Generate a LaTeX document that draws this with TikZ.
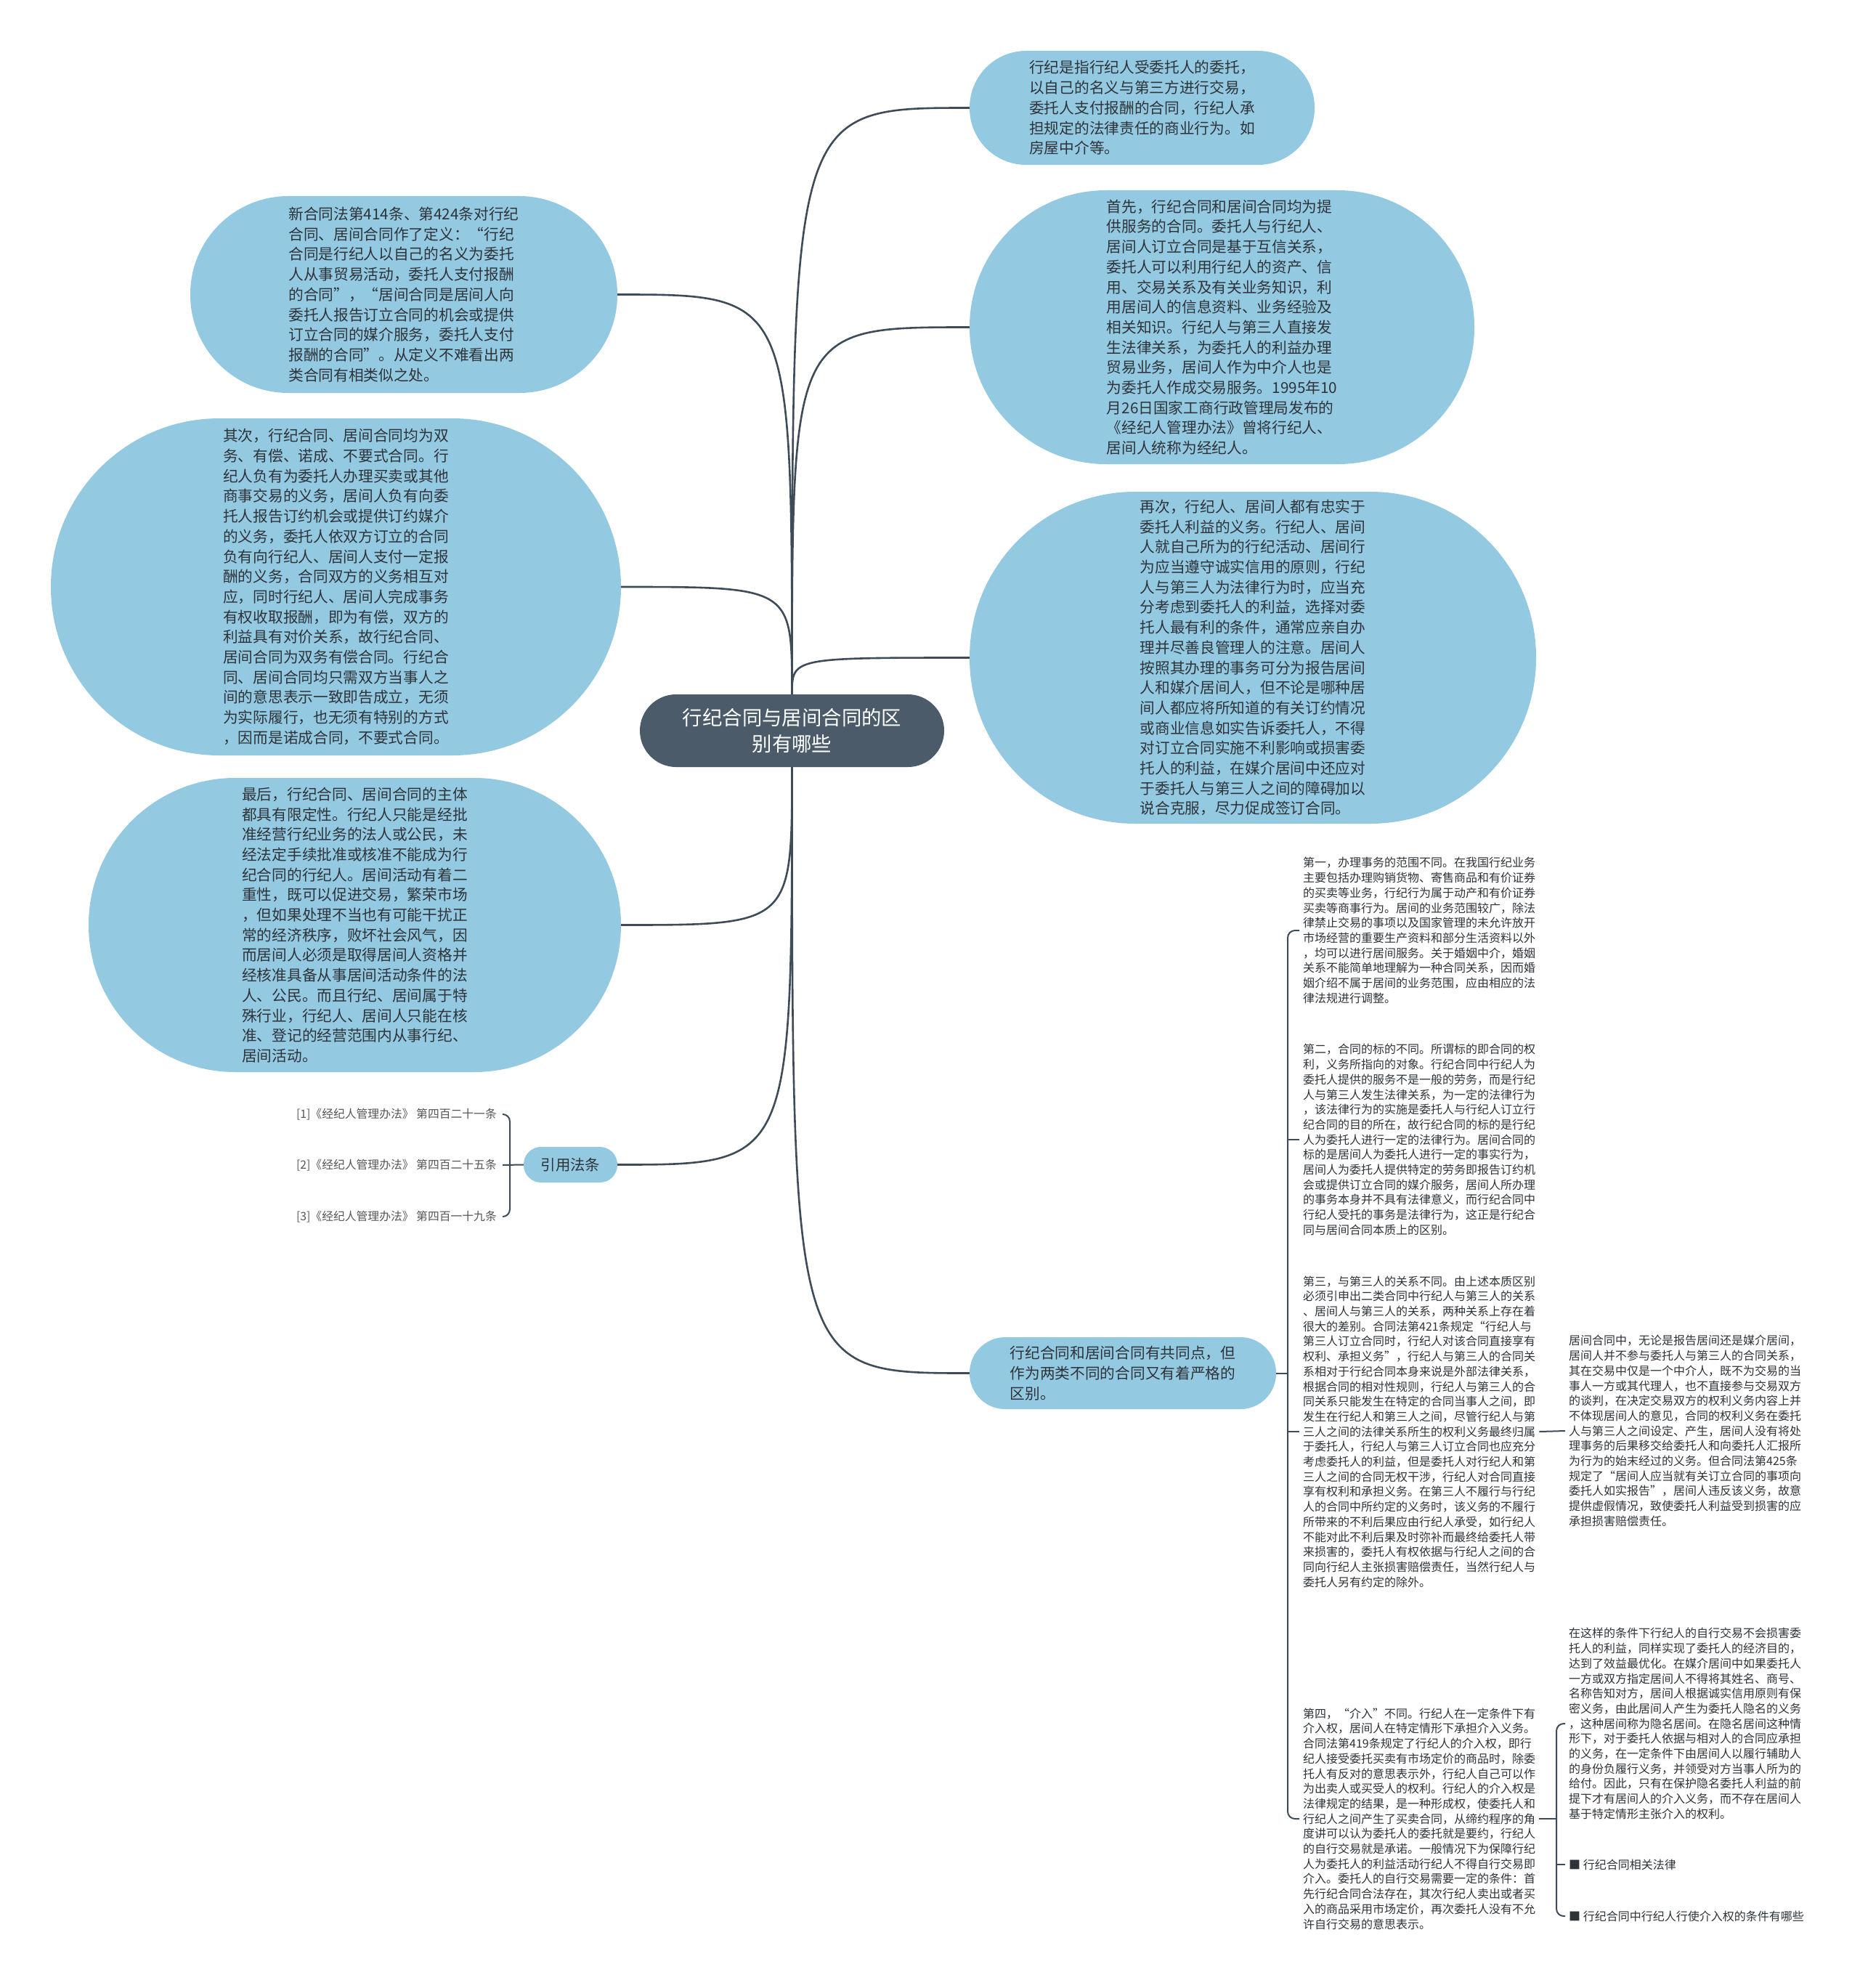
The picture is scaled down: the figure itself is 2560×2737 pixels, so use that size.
\documentclass[tikz,border=0pt]{standalone}
\usepackage{fontspec}
\setmainfont{Noto Sans CJK SC}
\usetikzlibrary{calc}
\definecolor{bub}{HTML}{94C9E2}
\definecolor{hub}{HTML}{4B5B6A}
\definecolor{txt}{HTML}{2E3338}
\definecolor{ln}{HTML}{3E4C59}
\definecolor{cit}{HTML}{555555}
\begin{document}
\begin{tikzpicture}[x=1pt,y=-1pt,
  bubble/.style={fill=bub, text=txt, align=left, inner sep=0pt, font=\fontsize{20.7pt}{27.7pt}\selectfont},
  hubnode/.style={fill=hub, text=white, align=center, inner sep=0pt, font=\fontsize{27.4pt}{36.6pt}\selectfont},
  para/.style={text=txt, align=left, inner xsep=5pt, inner ysep=0pt, font=\fontsize{16pt}{20.7pt}\selectfont},
  citetext/.style={text=cit, anchor=east, inner xsep=8pt, inner ysep=0pt, font=\fontsize{15.8pt}{19pt}\selectfont},
  edge/.style={draw=ln, line width=2.6pt},
  thin edge/.style={draw=ln, line width=2pt}]
\useasboundingbox[fill=white] (0,0) rectangle (2560,2737);

% central node
\node[hubnode, minimum width=419pt, minimum height=100pt, rounded corners=50pt] (hub) at (1090.5,1006) {行纪合同与居间合同的区\\别有哪些};

% right bubbles
\node[bubble, minimum width=475pt, minimum height=157pt, rounded corners=78pt] (r1) at (1572.5,148.5) {行纪是指行纪人受委托人的委托，\\以自己的名义与第三方进行交易，\\委托人支付报酬的合同，行纪人承\\担规定的法律责任的商业行为。如\\房屋中介等。};

\node[bubble, minimum width=695pt, minimum height=377pt, rounded corners=188pt] (r2) at (1682.5,450.5) {首先，行纪合同和居间合同均为提\\供服务的合同。委托人与行纪人、\\居间人订立合同是基于互信关系，\\委托人可以利用行纪人的资产、信\\用、交易关系及有关业务知识，利\\用居间人的信息资料、业务经验及\\相关知识。行纪人与第三人直接发\\生法律关系，为委托人的利益办理\\贸易业务，居间人作为中介人也是\\为委托人作成交易服务。1995年10\\月26日国家工商行政管理局发布的\\《经纪人管理办法》曾将行纪人、\\居间人统称为经纪人。};

\node[bubble, minimum width=780pt, minimum height=457pt, rounded corners=228pt] (r3) at (1725,905.5) {再次，行纪人、居间人都有忠实于\\委托人利益的义务。行纪人、居间\\人就自己所为的行纪活动、居间行\\为应当遵守诚实信用的原则，行纪\\人与第三人为法律行为时，应当充\\分考虑到委托人的利益，选择对委\\托人最有利的条件，通常应亲自办\\理并尽善良管理人的注意。居间人\\按照其办理的事务可分为报告居间\\人和媒介居间人，但不论是哪种居\\间人都应将所知道的有关订约情况\\或商业信息如实告诉委托人，不得\\对订立合同实施不利影响或损害委\\托人的利益，在媒介居间中还应对\\于委托人与第三人之间的障碍加以\\说合克服，尽力促成签订合同。};

\node[bubble, minimum width=422pt, minimum height=99pt, rounded corners=49pt] (r4) at (1546,1890.5) {行纪合同和居间合同有共同点，但\\作为两类不同的合同又有着严格的\\区别。};

% left bubbles
\node[bubble, minimum width=588pt, minimum height=271pt, rounded corners=135pt] (l1) at (556,405.5) {新合同法第414条、第424条对行纪\\合同、居间合同作了定义：“行纪\\合同是行纪人以自己的名义为委托\\人从事贸易活动，委托人支付报酬\\的合同”，“居间合同是居间人向\\委托人报告订立合同的机会或提供\\订立合同的媒介服务，委托人支付\\报酬的合同”。从定义不难看出两\\类合同有相类似之处。};

\node[bubble, minimum width=785pt, minimum height=464pt, rounded corners=232pt] (l2) at (462.5,808) {其次，行纪合同、居间合同均为双\\务、有偿、诺成、不要式合同。行\\纪人负有为委托人办理买卖或其他\\商事交易的义务，居间人负有向委\\托人报告订约机会或提供订约媒介\\的义务，委托人依双方订立的合同\\负有向行纪人、居间人支付一定报\\酬的义务，合同双方的义务相互对\\应，同时行纪人、居间人完成事务\\有权收取报酬，即为有偿，双方的\\利益具有对价关系，故行纪合同、\\居间合同为双务有偿合同。行纪合\\同、居间合同均只需双方当事人之\\间的意思表示一致即告成立，无须\\为实际履行，也无须有特别的方式\\，因而是诺成合同，不要式合同。};

\node[bubble, minimum width=733pt, minimum height=405pt, rounded corners=202pt] (l3) at (488.5,1273.5) {最后，行纪合同、居间合同的主体\\都具有限定性。行纪人只能是经批\\准经营行纪业务的法人或公民，未\\经法定手续批准或核准不能成为行\\纪合同的行纪人。居间活动有着二\\重性，既可以促进交易，繁荣市场\\，但如果处理不当也有可能干扰正\\常的经济秩序，败坏社会风气，因\\而居间人必须是取得居间人资格并\\经核准具备从事居间活动条件的法\\人、公民。而且行纪、居间属于特\\殊行业，行纪人、居间人只能在核\\准、登记的经营范围内从事行纪、\\居间活动。};

\node[bubble, align=center, minimum width=129pt, minimum height=49pt, rounded corners=24pt, font=\fontsize{20.4pt}{24pt}\selectfont] (l4) at (785.5,1603.5) {引用法条};

% citations
\node[citetext] (c1) at (692,1534) {[1]《经纪人管理办法》 第四百二十一条};
\node[citetext] (c2) at (692,1604) {[2]《经纪人管理办法》 第四百二十五条};
\node[citetext] (c3) at (692,1675) {[3]《经纪人管理办法》 第四百一十九条};

% small paragraphs
\node[para, anchor=west] (p1) at (1789,1281) {第一，办理事务的范围不同。在我国行纪业务\\主要包括办理购销货物、寄售商品和有价证券\\的买卖等业务，行纪行为属于动产和有价证券\\买卖等商事行为。居间的业务范围较广，除法\\律禁止交易的事项以及国家管理的未允许放开\\市场经营的重要生产资料和部分生活资料以外\\，均可以进行居间服务。关于婚姻中介，婚姻\\关系不能简单地理解为一种合同关系，因而婚\\姻介绍不属于居间的业务范围，应由相应的法\\律法规进行调整。};

\node[para, anchor=west] (p2) at (1789,1569) {第二，合同的标的不同。所谓标的即合同的权\\利，义务所指向的对象。行纪合同中行纪人为\\委托人提供的服务不是一般的劳务，而是行纪\\人与第三人发生法律关系，为一定的法律行为\\，该法律行为的实施是委托人与行纪人订立行\\纪合同的目的所在，故行纪合同的标的是行纪\\人为委托人进行一定的法律行为。居间合同的\\标的是居间人为委托人进行一定的事实行为，\\居间人为委托人提供特定的劳务即报告订约机\\会或提供订立合同的媒介服务，居间人所办理\\的事务本身并不具有法律意义，而行纪合同中\\行纪人受托的事务是法律行为，这正是行纪合\\同与居间合同本质上的区别。};

\node[para, anchor=west] (p3) at (1789,1971) {第三，与第三人的关系不同。由上述本质区别\\必须引申出二类合同中行纪人与第三人的关系\\、居间人与第三人的关系，两种关系上存在着\\很大的差别。合同法第421条规定“行纪人与\\第三人订立合同时，行纪人对该合同直接享有\\权利、承担义务”，行纪人与第三人的合同关\\系相对于行纪合同本身来说是外部法律关系，\\根据合同的相对性规则，行纪人与第三人的合\\同关系只能发生在特定的合同当事人之间，即\\发生在行纪人和第三人之间，尽管行纪人与第\\三人之间的法律关系所生的权利义务最终归属\\于委托人，行纪人与第三人订立合同也应充分\\考虑委托人的利益，但是委托人对行纪人和第\\三人之间的合同无权干涉，行纪人对合同直接\\享有权利和承担义务。在第三人不履行与行纪\\人的合同中所约定的义务时，该义务的不履行\\所带来的不利后果应由行纪人承受，如行纪人\\不能对此不利后果及时弥补而最终给委托人带\\来损害的，委托人有权依据与行纪人之间的合\\同向行纪人主张损害赔偿责任，当然行纪人与\\委托人另有约定的除外。};

\node[para, anchor=west] (p4) at (1789,2504) {第四，“介入”不同。行纪人在一定条件下有\\介入权，居间人在特定情形下承担介入义务。\\合同法第419条规定了行纪人的介入权，即行\\纪人接受委托买卖有市场定价的商品时，除委\\托人有反对的意思表示外，行纪人自己可以作\\为出卖人或买受人的权利。行纪人的介入权是\\法律规定的结果，是一种形成权，使委托人和\\行纪人之间产生了买卖合同，从缔约程序的角\\度讲可以认为委托人的委托就是要约，行纪人\\的自行交易就是承诺。一般情况下为保障行纪\\人为委托人的利益活动行纪人不得自行交易即\\介入。委托人的自行交易需要一定的条件：首\\先行纪合同合法存在，其次行纪人卖出或者买\\入的商品采用市场定价，再次委托人没有不允\\许自行交易的意思表示。};

\node[para, anchor=west] (p5) at (2155,1970) {居间合同中，无论是报告居间还是媒介居间，\\居间人并不参与委托人与第三人的合同关系，\\其在交易中仅是一个中介人，既不为交易的当\\事人一方或其代理人，也不直接参与交易双方\\的谈判，在决定交易双方的权利义务内容上并\\不体现居间人的意见，合同的权利义务在委托\\人与第三人之间设定、产生，居间人没有将处\\理事务的后果移交给委托人和向委托人汇报所\\为行为的始末经过的义务。但合同法第425条\\规定了“居间人应当就有关订立合同的事项向\\委托人如实报告”，居间人违反该义务，故意\\提供虚假情况，致使委托人利益受到损害的应\\承担损害赔偿责任。};

\node[para, anchor=west] (p6) at (2155,2373) {在这样的条件下行纪人的自行交易不会损害委\\托人的利益，同样实现了委托人的经济目的，\\达到了效益最优化。在媒介居间中如果委托人\\一方或双方指定居间人不得将其姓名、商号、\\名称告知对方，居间人根据诚实信用原则有保\\密义务，由此居间人产生为委托人隐名的义务\\，这种居间称为隐名居间。在隐名居间这种情\\形下，对于委托人依据与相对人的合同应承担\\的义务，在一定条件下由居间人以履行辅助人\\的身份负履行义务，并领受对方当事人所为的\\给付。因此，只有在保护隐名委托人利益的前\\提下才有居间人的介入义务，而不存在居间人\\基于特定情形主张介入的权利。};

\node[para, anchor=west] (p7) at (2155,2567) {■ 行纪合同相关法律};
\node[para, anchor=west] (p8) at (2155,2638) {■ 行纪合同中行纪人行使介入权的条件有哪些};

% edges from hub
\draw[edge] (hub.north) .. controls (hub.north |- r1.west) .. (r1.west);
\draw[edge] (hub.north) .. controls (hub.north |- r2.west) .. (r2.west);
\draw[edge] (hub.north) .. controls (hub.north |- r3.west) .. (r3.west);
\draw[edge] (hub.south) .. controls (hub.south |- r4.west) .. (r4.west);
\draw[edge] (hub.north) .. controls (hub.north |- l1.east) .. (l1.east);
\draw[edge] (hub.north) .. controls (hub.north |- l2.east) .. (l2.east);
\draw[edge] (hub.south) .. controls (hub.south |- l3.east) .. (l3.east);
\draw[edge] (hub.south) .. controls (hub.south |- l4.east) .. (l4.east);

% citation bracket
\coordinate (cb) at (702,1604);
\draw[thin edge, rounded corners=10pt] (c1.east) -| (cb) |- (c3.east);
\draw[thin edge] (c2.east) -- (l4.west);

% right bracket
\coordinate (rb) at (1773,1890.5);
\draw[thin edge] (r4.east) -- (rb);
\draw[thin edge, rounded corners=10pt] (p1.west) -| (rb) |- (p4.west);
\draw[thin edge] (p2.west) -| (rb);
\draw[thin edge] (p3.west) -| (rb);

% p3 -> p5
\draw[thin edge] (p3.east) -- (p5.west);

% p4 bracket
\coordinate (qb) at (2143,2504);
\draw[thin edge] (p4.east) -- (qb);
\draw[thin edge, rounded corners=10pt] (p6.west) -| (qb) |- (p8.west);
\draw[thin edge] (p7.west) -| (qb);
\end{tikzpicture}
\end{document}
